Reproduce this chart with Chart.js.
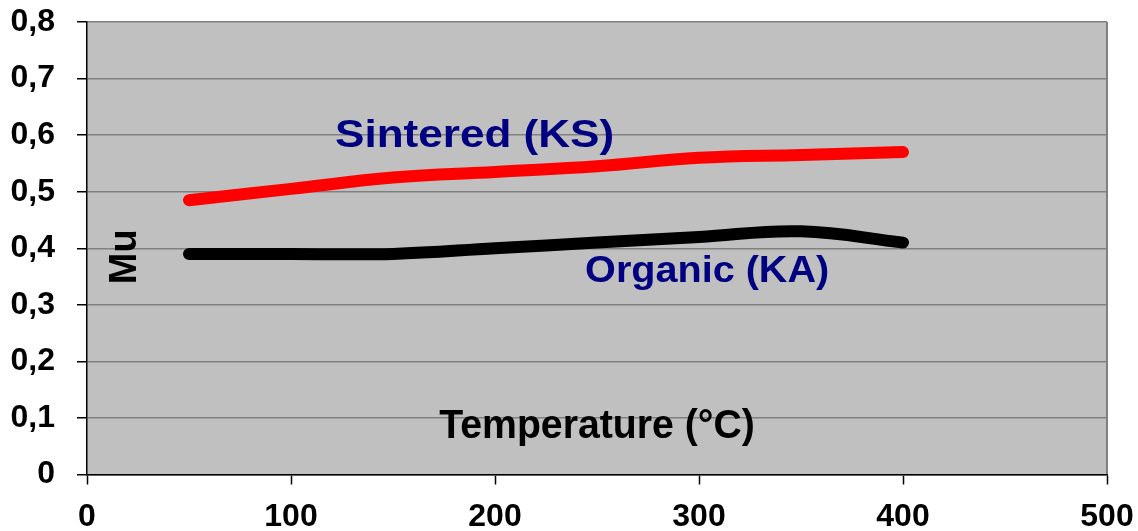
<!DOCTYPE html>
<html lang="en">
<head>
    <title>Mu vs Temperature</title>
    <meta charset="utf-8">
    <script src="https://cdn.jsdelivr.net/npm/chart.js@4.4.1/dist/chart.umd.min.js"></script>
    <style>
        body { margin: 0; background: #ffffff; }
        #wrap { width: 1138px; height: 531px; }
    </style>
</head>
<body>

<div id="wrap">
    <canvas id="mu-chart"></canvas>
</div>

<script>
// values
var temperatures = [50, 100, 150, 200, 250, 300, 350, 400];
var sinteredKS = [0.485, 0.505, 0.525, 0.535, 0.545, 0.56, 0.565, 0.57];
var organicKA = [0.39, 0.39, 0.39, 0.40, 0.41, 0.42, 0.43, 0.41];
var seriesNames = ['Sintered (KS)', 'Organic (KA)'];
var xTitle = 'Temperature (°C)';
var yTitle = 'Mu';

function toPoints(xs, ys) {
    var pts = [];
    for (var i = 0; i < xs.length; i++) {
        pts.push({x: xs[i], y: ys[i]});
    }
    return pts;
}

var FONT = '"Liberation Sans", Arial, sans-serif';

// grey plot area + right border
var plotBackground = {
    id: 'plotBackground',
    beforeDraw: function(chart) {
        var a = chart.chartArea, ctx = chart.ctx;
        ctx.save();
        ctx.fillStyle = '#c0c0c0';
        ctx.fillRect(a.left, a.top, a.right - a.left, a.bottom - a.top);
        ctx.strokeStyle = '#808080';
        ctx.lineWidth = 2;
        ctx.beginPath();
        ctx.moveTo(a.right, a.top);
        ctx.lineTo(a.right, a.bottom);
        ctx.stroke();
        ctx.restore();
    }
};

// draw one text, stretched a little sideways like the original
function drawText(ctx, txt, x, y, size, stretch, rot) {
    ctx.save();
    ctx.translate(x, y);
    if (rot) ctx.rotate(rot);
    ctx.scale(stretch, 1);
    ctx.font = 'bold ' + size + 'px ' + FONT;
    ctx.fillText(txt, 0, 0);
    ctx.restore();
}

// text labels placed in data coordinates
var textLabels = {
    id: 'textLabels',
    afterDatasetsDraw: function(chart) {
        var ctx = chart.ctx, xs = chart.scales.x, ys = chart.scales.y;
        ctx.save();
        ctx.textAlign = 'center';
        ctx.textBaseline = 'alphabetic';

        ctx.fillStyle = '#000080';
        drawText(ctx, seriesNames[0], xs.getPixelForValue(190), ys.getPixelForValue(0.579), 39, 1.13, 0);
        drawText(ctx, seriesNames[1], xs.getPixelForValue(304), ys.getPixelForValue(0.34), 37, 1.07, 0);

        ctx.fillStyle = '#000000';
        drawText(ctx, xTitle, xs.getPixelForValue(250), ys.getPixelForValue(0.065), 40, 0.98, 0);
        drawText(ctx, yTitle, xs.getPixelForValue(24), ys.getPixelForValue(0.385), 38, 1, -Math.PI / 2);
        ctx.restore();
    }
};

new Chart(document.getElementById('mu-chart'), {
    type: 'scatter',
    data: {
        datasets: [
            {
                label: seriesNames[0],
                data: toPoints(temperatures, sinteredKS),
                borderColor: '#ff0000',
                backgroundColor: '#ff0000',
                borderWidth: 12,
                borderCapStyle: 'round',
                borderJoinStyle: 'round',
                showLine: true,
                tension: 0.4,
                pointRadius: 0
            },
            {
                label: seriesNames[1],
                data: toPoints(temperatures, organicKA),
                borderColor: '#000000',
                backgroundColor: '#000000',
                borderWidth: 12,
                borderCapStyle: 'round',
                borderJoinStyle: 'round',
                showLine: true,
                tension: 0.4,
                pointRadius: 0
            }
        ]
    },
    options: {
        responsive: true,
        maintainAspectRatio: false,
        animation: false,
        layout: { padding: { top: 22, right: 31, left: 0, bottom: 0 } },
        plugins: {
            legend: { display: false },
            tooltip: { enabled: false }
        },
        scales: {
            x: {
                type: 'linear',
                min: 0,
                max: 500,
                ticks: {
                    stepSize: 100,
                    maxRotation: 0,
                    autoSkip: false,
                    padding: 13,
                    color: '#000000',
                    font: { family: FONT, size: 32, weight: 'bold' }
                },
                grid: {
                    drawOnChartArea: false,
                    drawTicks: true,
                    tickLength: 10,
                    tickColor: '#000000',
                    tickWidth: 1.5
                },
                border: { color: '#000000', width: 1.5 },
                afterFit: function(scale) {
                    scale.height = 56.5;
                    scale.paddingLeft = 0;
                    scale.paddingRight = 0;
                }
            },
            y: {
                min: 0,
                max: 0.8,
                ticks: {
                    stepSize: 0.1,
                    padding: 22,
                    color: '#000000',
                    font: { family: FONT, size: 32, weight: 'bold' },
                    callback: function(v) {
                        if (Math.abs(v) < 1e-9) return '0';
                        return v.toFixed(1).replace('.', ',');
                    }
                },
                grid: {
                    color: '#808080',
                    lineWidth: 1.5,
                    tickLength: 10,
                    tickColor: '#000000',
                    tickWidth: 1.5
                },
                border: { color: '#000000', width: 1.5 },
                afterFit: function(scale) {
                    scale.width = 87;
                    scale.paddingTop = 0;
                    scale.paddingBottom = 0;
                }
            }
        }
    },
    plugins: [plotBackground, textLabels]
});
</script>
</body>
</html>
